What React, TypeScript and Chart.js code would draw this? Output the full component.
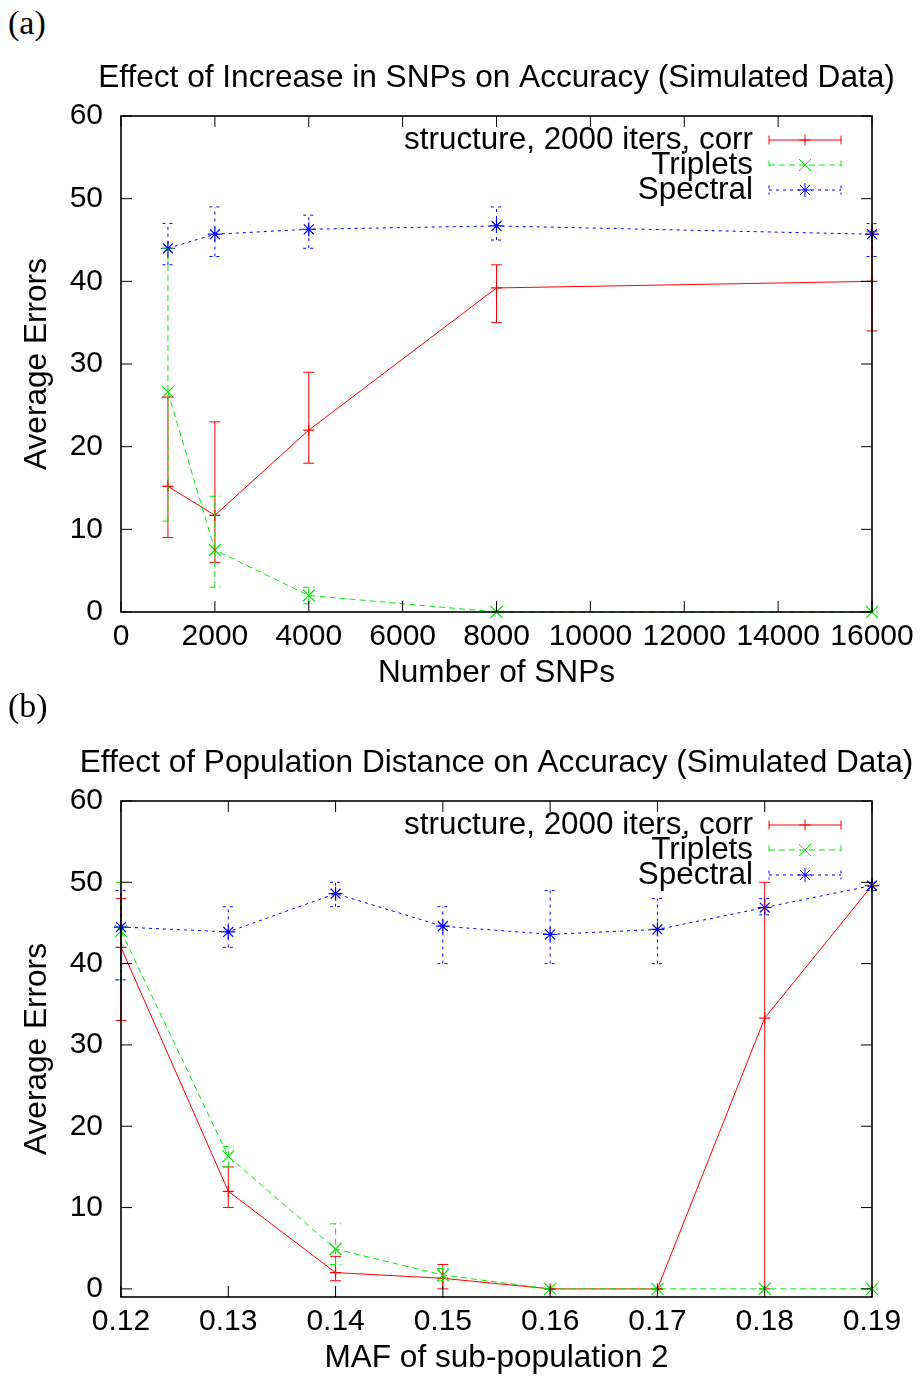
import React, { useEffect, useRef } from 'react';
import { Chart, registerables } from 'chart.js';

Chart.register(...registerables);

const FONT = "'Liberation Sans', Arial, Helvetica, sans-serif";
const SERIF = "'Liberation Serif', 'DejaVu Serif', serif";

// ---------- shared ----------
const seriesLabels = ['structure, 2000 iters, corr', 'Triplets', 'Spectral'];
const yLabel = 'Average Errors';
const yTicks = [0, 10, 20, 30, 40, 50, 60];

// ---------- panel (a) ----------
const titleA = 'Effect of Increase in SNPs on Accuracy (Simulated Data)';
const xLabelA = 'Number of SNPs';
const snps = [1000, 2000, 4000, 8000, 16000];
const xTicksA = [0, 2000, 4000, 6000, 8000, 10000, 12000, 14000, 16000];
const structA = [15.2, 11.7, 22, 39.2, 40];
const structALow = [9, 6, 18, 35, 34];
const structAHigh = [26, 23, 29, 42, 46];
const tripA = [26.6, 7.5, 2, 0, 0];
const tripALow = [11, 3, 1, 0, 0];
const tripAHigh = [44, 14, 3, 0, 0];
const specA = [44, 45.7, 46.3, 46.7, 45.7];
const specALow = [42, 43, 44, 45, 43];
const specAHigh = [47, 49, 48, 49, 47];

// ---------- panel (b) ----------
const titleB = 'Effect of Population Distance on Accuracy (Simulated Data)';
const xLabelB = 'MAF of sub-population 2';
const maf = [0.12, 0.13, 0.14, 0.15, 0.16, 0.17, 0.18, 0.19];
const xTicksB = [0.12, 0.13, 0.14, 0.15, 0.16, 0.17, 0.18, 0.19];
const structB = [42, 12, 2, 1.3, 0, 0, 33.3, 49.6];
const structBLow = [33, 10, 1, 0, 0, 0, 0, 49.6];
const structBHigh = [48, 15, 4, 3, 0, 0, 50, 49.6];
const tripB = [44, 16.3, 4.9, 1.7, 0, 0, 0, 0];
const tripBLow = [38, 15, 3, 1, 0, 0, 0, 0];
const tripBHigh = [50, 17.5, 8, 2.5, 0, 0, 0, 0];
const specB = [44.5, 43.9, 48.6, 44.6, 43.6, 44.2, 46.9, 49.6];
const specBLow = [38, 42, 47, 40, 40, 40, 46, 49];
const specBHigh = [49, 47, 50, 47, 49, 48, 48, 50];

// ---------- styles ----------
const W = 923;
const H = 650;
const PLOT_LEFT = 121;
const PLOT_RIGHT = 872;
const PLOT_TOP = 71;
const PLOT_BOTTOM = 567;
const STYLES = [
  { color: '#ff0000', dash: [] as number[], point: 'cross', r: 5.5 },
  { color: '#00ee00', dash: [6, 4], point: 'crossRot', r: 8.5 },
  { color: '#0000ff', dash: [3, 4], point: 'star', r: 7 },
];

function drawMarker(ctx: CanvasRenderingContext2D, style: string, x: number, y: number, r: number) {
  ctx.beginPath();
  if (style === 'cross' || style === 'star') {
    ctx.moveTo(x - r, y);
    ctx.lineTo(x + r, y);
    ctx.moveTo(x, y - r);
    ctx.lineTo(x, y + r);
  }
  if (style === 'crossRot' || style === 'star') {
    const d = r * Math.SQRT1_2;
    ctx.moveTo(x - d, y - d);
    ctx.lineTo(x + d, y + d);
    ctx.moveTo(x - d, y + d);
    ctx.lineTo(x + d, y - d);
  }
  ctx.stroke();
}

const gnuplotPlugin = {
  id: 'gnuplotDecor',
  afterDatasetsDraw(chart: any, _args: any, opts: any) {
    const ctx: CanvasRenderingContext2D = chart.ctx;
    const { left, right, top, bottom } = chart.chartArea;
    const xs = chart.scales.x;
    const ys = chart.scales.y;
    const CAP = 5.5;

    // plot title, centred over the plot area
    ctx.save();
    ctx.font = `31.6px ${FONT}`;
    ctx.fillStyle = '#000';
    ctx.textAlign = 'center';
    ctx.textBaseline = 'middle';
    ctx.fillText(opts.text, (left + right) / 2, 33);
    ctx.restore();

    // error bars
    chart.data.datasets.forEach((ds: any, i: number) => {
      const meta = chart.getDatasetMeta(i);
      ctx.save();
      ctx.strokeStyle = ds.borderColor;
      ctx.lineWidth = 1;
      ctx.setLineDash(ds.borderDash || []);
      meta.data.forEach((pt: any, j: number) => {
        const x = pt.x;
        const yl = ys.getPixelForValue(ds.errLow[j]);
        const yh = ys.getPixelForValue(ds.errHigh[j]);
        ctx.beginPath();
        ctx.moveTo(x, yl);
        ctx.lineTo(x, yh);
        ctx.moveTo(x - CAP, yl);
        ctx.lineTo(x + CAP, yl);
        ctx.moveTo(x - CAP, yh);
        ctx.lineTo(x + CAP, yh);
        ctx.stroke();
      });
      ctx.restore();
    });

    // frame with inward ticks (mirrored)
    ctx.save();
    ctx.strokeStyle = '#000';
    ctx.setLineDash([]);
    ctx.lineWidth = 1;
    const TL = 11;
    xs.ticks.forEach((t: any) => {
      const px = xs.getPixelForValue(t.value);
      ctx.beginPath();
      ctx.moveTo(px, bottom);
      ctx.lineTo(px, bottom - TL);
      ctx.moveTo(px, top);
      ctx.lineTo(px, top + TL);
      ctx.stroke();
    });
    ys.ticks.forEach((t: any) => {
      const py = ys.getPixelForValue(t.value);
      ctx.beginPath();
      ctx.moveTo(left, py);
      ctx.lineTo(left + TL, py);
      ctx.moveTo(right, py);
      ctx.lineTo(right - TL, py);
      ctx.stroke();
    });
    ctx.lineWidth = 1.6;
    ctx.strokeRect(left, top, right - left, bottom - top);
    ctx.restore();

    // key
    const TEXT_R = 753;
    const S_L = 769;
    const S_R = 841;
    const ROW0 = top + 24;
    const STEP = 25;
    ctx.save();
    chart.data.datasets.forEach((ds: any, i: number) => {
      const y = ROW0 + i * STEP;
      ctx.font = `31.4px ${FONT}`;
      ctx.fillStyle = '#000';
      ctx.textAlign = 'right';
      ctx.textBaseline = 'middle';
      ctx.fillText(ds.label, TEXT_R, y);
      ctx.strokeStyle = ds.borderColor;
      ctx.lineWidth = 1;
      ctx.setLineDash(ds.borderDash || []);
      ctx.beginPath();
      ctx.moveTo(S_L, y);
      ctx.lineTo(S_R, y);
      ctx.moveTo(S_L, y - 4.5);
      ctx.lineTo(S_L, y + 4.5);
      ctx.moveTo(S_R, y - 4.5);
      ctx.lineTo(S_R, y + 4.5);
      ctx.stroke();
      ctx.setLineDash([]);
      drawMarker(ctx, ds.pointStyle, (S_L + S_R) / 2, y, ds.pointRadius);
    });
    ctx.restore();
  },
};

type PanelProps = {
  title: string;
  xLabel: string;
  xs: number[];
  xTicks: number[];
  xMin: number;
  xMax: number;
  yMin: number;
  yMax: number;
  fmt: (v: number) => string;
  series: { vals: number[]; low: number[]; high: number[] }[];
};

function Panel(props: PanelProps) {
  const ref = useRef<HTMLCanvasElement>(null);
  useEffect(() => {
    if (!ref.current) return;
    const tickFont = { family: FONT, size: 30, weight: 'normal' as const, lineHeight: 1.2 };
    const titleFont = { family: FONT, size: 31.6, weight: 'normal' as const, lineHeight: 1.2 };
    const datasets = props.series.map((s, i) => ({
      label: seriesLabels[i],
      data: props.xs.map((x, j) => ({ x, y: s.vals[j] })),
      errLow: s.low,
      errHigh: s.high,
      borderColor: STYLES[i].color,
      backgroundColor: STYLES[i].color,
      borderWidth: 1,
      borderDash: STYLES[i].dash,
      pointStyle: STYLES[i].point,
      pointRadius: STYLES[i].r,
      pointBorderWidth: 1.2,
      pointBorderColor: STYLES[i].color,
      tension: 0,
      clip: false,
      order: 3 - i,
    }));
    const chart = new Chart(ref.current, {
      type: 'line',
      data: { datasets } as any,
      plugins: [gnuplotPlugin],
      options: {
        responsive: false,
        animation: false,
        devicePixelRatio: 1,
        events: [],
        layout: { padding: { left: 0, right: W - PLOT_RIGHT, top: PLOT_TOP, bottom: 0 } },
        plugins: {
          legend: { display: false },
          tooltip: { enabled: false },
          title: { display: false },
          gnuplotDecor: { text: props.title },
        },
        scales: {
          x: {
            type: 'linear',
            min: props.xMin,
            max: props.xMax,
            grid: { display: false, drawTicks: false },
            border: { display: false },
            ticks: {
              color: '#000',
              font: tickFont,
              padding: 6.7,
              autoSkip: false,
              maxRotation: 0,
              minRotation: 0,
              callback: (v: any) => props.fmt(Number(v)),
            },
            title: { display: true, text: props.xLabel, color: '#000', font: titleFont, padding: { top: 0, bottom: 3 } },
            afterBuildTicks: (s: any) => {
              s.ticks = props.xTicks.map((v) => ({ value: v }));
            },
            afterFit: (s: any) => {
              s.height = H - PLOT_BOTTOM;
            },
          },
          y: {
            type: 'linear',
            min: props.yMin,
            max: props.yMax,
            grid: { display: false, drawTicks: false },
            border: { display: false },
            ticks: {
              color: '#000',
              font: tickFont,
              padding: 18,
              callback: (v: any) => String(v),
            },
            title: { display: true, text: yLabel, color: '#000', font: titleFont, padding: { top: 18.5, bottom: 0 } },
            afterBuildTicks: (s: any) => {
              s.ticks = yTicks.map((v) => ({ value: v }));
            },
            afterFit: (s: any) => {
              s.width = PLOT_LEFT;
            },
          },
        },
      } as any,
    });
    return () => chart.destroy();
  }, []);
  return <canvas ref={ref} width={W} height={H} style={{ display: 'block', width: W, height: H }} />;
}

export default function App() {
  const tag: React.CSSProperties = {
    position: 'absolute',
    left: 8,
    fontFamily: SERIF,
    fontSize: 34,
    lineHeight: '34px',
    color: '#000',
  };
  return (
    <div style={{ position: 'absolute', left: 0, top: 0, width: W, height: 1376, background: '#fff' }}>
      <div style={{ ...tag, top: 6 }}>(a)</div>
      <div style={{ position: 'absolute', left: 0, top: 45 }}>
        <Panel
          title={titleA}
          xLabel={xLabelA}
          xs={snps}
          xTicks={xTicksA}
          xMin={0}
          xMax={16000}
          yMin={0}
          yMax={60}
          fmt={(v) => String(v)}
          series={[
            { vals: structA, low: structALow, high: structAHigh },
            { vals: tripA, low: tripALow, high: tripAHigh },
            { vals: specA, low: specALow, high: specAHigh },
          ]}
        />
      </div>
      <div style={{ ...tag, top: 689 }}>(b)</div>
      <div style={{ position: 'absolute', left: 0, top: 730 }}>
        <Panel
          title={titleB}
          xLabel={xLabelB}
          xs={maf}
          xTicks={xTicksB}
          xMin={0.12}
          xMax={0.19}
          yMin={-1}
          yMax={60}
          fmt={(v) => v.toFixed(2)}
          series={[
            { vals: structB, low: structBLow, high: structBHigh },
            { vals: tripB, low: tripBLow, high: tripBHigh },
            { vals: specB, low: specBLow, high: specBHigh },
          ]}
        />
      </div>
    </div>
  );
}
